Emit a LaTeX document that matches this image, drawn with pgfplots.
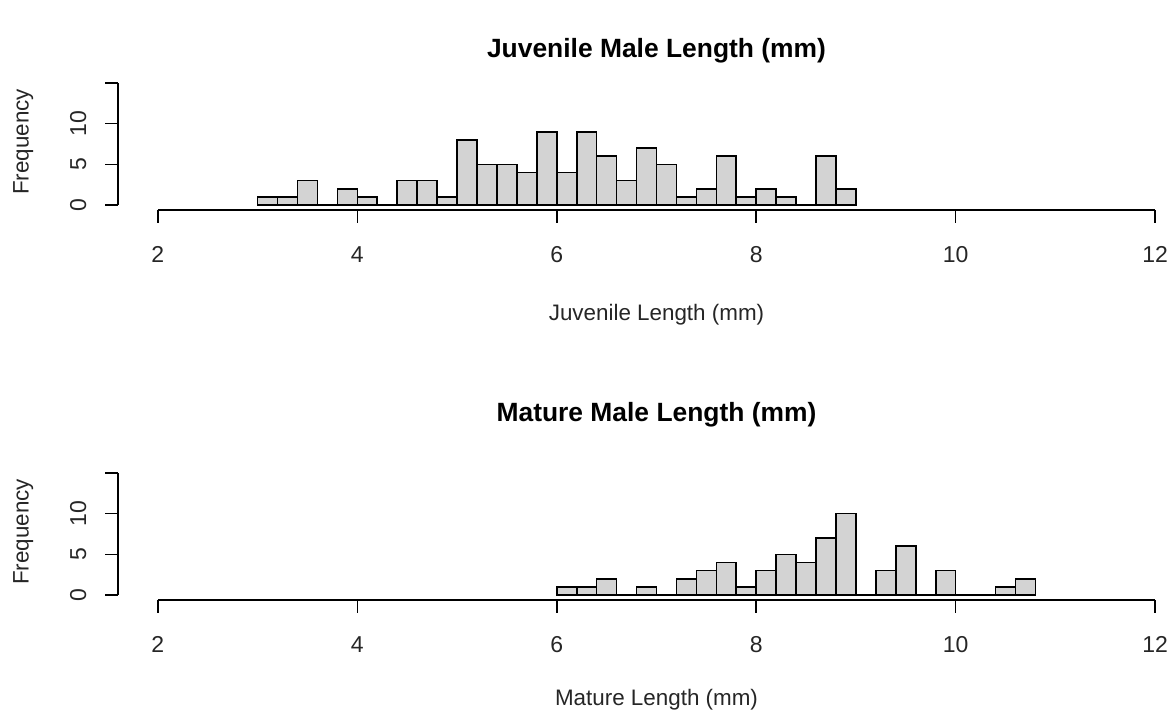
\documentclass[border=0pt]{standalone}
\usepackage{fontspec}
\setmainfont{Liberation Sans}
\usepackage{pgfplots}
\pgfplotsset{compat=1.18}
\definecolor{rgray}{RGB}{211,211,211}

\pgfplotsset{
  rhist/.style={
    scale only axis, width=538.5pt, height=66pt,
    xmin=1.6, xmax=12.4, ymin=-0.6, ymax=15.6,
    clip=false,
    axis x line*=bottom, axis y line*=left,
    axis line style={draw=none},
    tick align=outside, major tick length=6.35pt,
    tick style={black, line width=0.8pt},
    xtick={2,4,6,8,10,12}, xticklabels={2,4,6,8,10,12},
    ytick={0,5,10,15}, yticklabels={0,5,10,},
    tick label style={font=\fontsize{11.5}{12}\selectfont, text=black!85},
    xticklabel style={anchor=center, yshift=-15.8pt},
    yticklabel style={xshift=-13.5pt, rotate=90, anchor=center},
    label style={font=\fontsize{11.2}{12}\selectfont, text=black!85},
  },
  rbar/.style={ybar interval, fill=rgray, draw=black, line width=0.8pt},
}

\begin{document}
\begin{tikzpicture}
\path[use as bounding box] (0,0) rectangle (587.5pt,358.5pt);

% juvenile males
\begin{axis}[rhist, at={(59pt,253.5pt)}, anchor=south west,
  title={Juvenile Male Length (mm)},
  every axis title/.style={at={(0.5,1.21)}, anchor=center,
    font=\bfseries\fontsize{13.2}{14}\selectfont},
  xlabel={Juvenile Length (mm)},
  xlabel style={at={(0.5,-0.79)}, anchor=center},
  ylabel={Frequency},
  ylabel style={at={(-0.088,0.515)}, anchor=center},
]
\addplot[rbar] coordinates {
  (3.0,1)(3.2,1)(3.4,3)(3.6,0)(3.8,2)(4.0,1)(4.2,0)(4.4,3)(4.6,3)(4.8,1)
  (5.0,8)(5.2,5)(5.4,5)(5.6,4)(5.8,9)(6.0,4)(6.2,9)(6.4,6)(6.6,3)(6.8,7)
  (7.0,5)(7.2,1)(7.4,2)(7.6,6)(7.8,1)(8.0,2)(8.2,1)(8.4,0)(8.6,6)(8.8,2)
  (9.0,2)
};
\draw[line width=0.8pt] (axis cs:2,-0.6) -- (axis cs:12,-0.6);
\draw[line width=0.8pt] (axis cs:1.6,0) -- (axis cs:1.6,15);
\end{axis}

% mature males
\begin{axis}[rhist, at={(59pt,58.5pt)}, anchor=south west,
  title={Mature Male Length (mm)},
  every axis title/.style={at={(0.5,1.40)}, anchor=center,
    font=\bfseries\fontsize{13.2}{14}\selectfont},
  xlabel={Mature Length (mm)},
  xlabel style={at={(0.5,-0.755)}, anchor=center},
  ylabel={Frequency},
  ylabel style={at={(-0.088,0.515)}, anchor=center},
]
\addplot[rbar] coordinates {
  (6.0,1)(6.2,1)(6.4,2)(6.6,0)(6.8,1)(7.0,0)(7.2,2)(7.4,3)(7.6,4)(7.8,1)
  (8.0,3)(8.2,5)(8.4,4)(8.6,7)(8.8,10)(9.0,0)(9.2,3)(9.4,6)(9.6,0)(9.8,3)
  (10.0,0)(10.2,0)(10.4,1)(10.6,2)(10.8,2)
};
\draw[line width=0.8pt] (axis cs:2,-0.6) -- (axis cs:12,-0.6);
\draw[line width=0.8pt] (axis cs:1.6,0) -- (axis cs:1.6,15);
\end{axis}
\end{tikzpicture}
\end{document}
